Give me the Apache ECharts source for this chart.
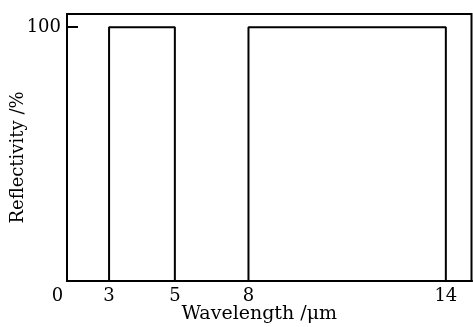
<!DOCTYPE html>
<html>
<head>
<meta charset="utf-8">
<script src="https://cdn.jsdelivr.net/npm/echarts@6.0.0/dist/echarts.min.js"></script>
<style>
html, body { margin: 0; padding: 0; background: #fff; }
#main { width: 473px; height: 327px; }
</style>
</head>
<body>
<div id="main"></div>
<script>
// step outline of the reflectivity bands
var wavelength = [0, 3, 3, 5, 5, 8, 8, 14, 14];
var reflectivity = [0, 0, 100, 100, 0, 0, 100, 100, 0];
var xTicks = [0, 3, 5, 8, 14];
var yTicks = [100];

var font = 'DejaVu Serif';
var points = wavelength.map(function (w, i) { return [w, reflectivity[i]]; });

var myChart = echarts.init(document.getElementById('main'));
var option = {
    animation: false,
    grid: {
        left: 67,
        top: 14,
        right: 1.5,
        bottom: 46,
        outerBoundsMode: 'none',
        show: true,
        borderColor: '#000',
        borderWidth: 2
    },
    xAxis: {
        type: 'value',
        min: 0,
        max: 14.78,
        // the original axis is schematic, not linear
        breaks: [
            { start: 0, end: 3, gap: '10.4%' },
            { start: 5, end: 8, gap: '18.2%' }
        ],
        breakArea: { show: false },
        name: 'Wavelength /\u03bcm',
        nameLocation: 'middle',
        nameGap: 24,
        nameMoveOverlap: false,
        nameTextStyle: {
            fontFamily: font,
            fontSize: 19,
            color: '#000',
            padding: [0, 20, 0, 0]
        },
        axisLine: { lineStyle: { color: '#000', width: 2 } },
        axisTick: { show: false },
        splitLine: { show: false },
        axisLabel: {
            customValues: xTicks,
            margin: 6,
            fontFamily: font,
            fontSize: 18,
            color: '#000',
            formatter: function (v) {
                return v === 0 ? '{z|0}' : String(v);
            },
            rich: {
                z: { fontFamily: font, fontSize: 18, color: '#000', padding: [0, 19, 0, 0] }
            }
        }
    },
    yAxis: {
        type: 'value',
        min: 0,
        max: 105.2,
        name: 'Reflectivity /%',
        nameLocation: 'middle',
        nameGap: 40,
        nameMoveOverlap: false,
        nameTextStyle: {
            fontFamily: font,
            fontSize: 18,
            color: '#000',
            padding: [0, 20, 0, 0]
        },
        axisLine: { show: true, lineStyle: { color: '#000', width: 2 } },
        axisTick: {
            show: true,
            inside: true,
            length: 11,
            customValues: yTicks,
            lineStyle: { color: '#000', width: 2 }
        },
        splitLine: { show: false },
        axisLabel: {
            customValues: yTicks,
            margin: 6,
            fontFamily: font,
            fontSize: 18,
            color: '#000'
        }
    },
    series: [{
        type: 'line',
        data: points,
        symbol: 'none',
        lineStyle: { color: '#000', width: 2 }
    }]
};
myChart.setOption(option);
</script>
</body>
</html>
